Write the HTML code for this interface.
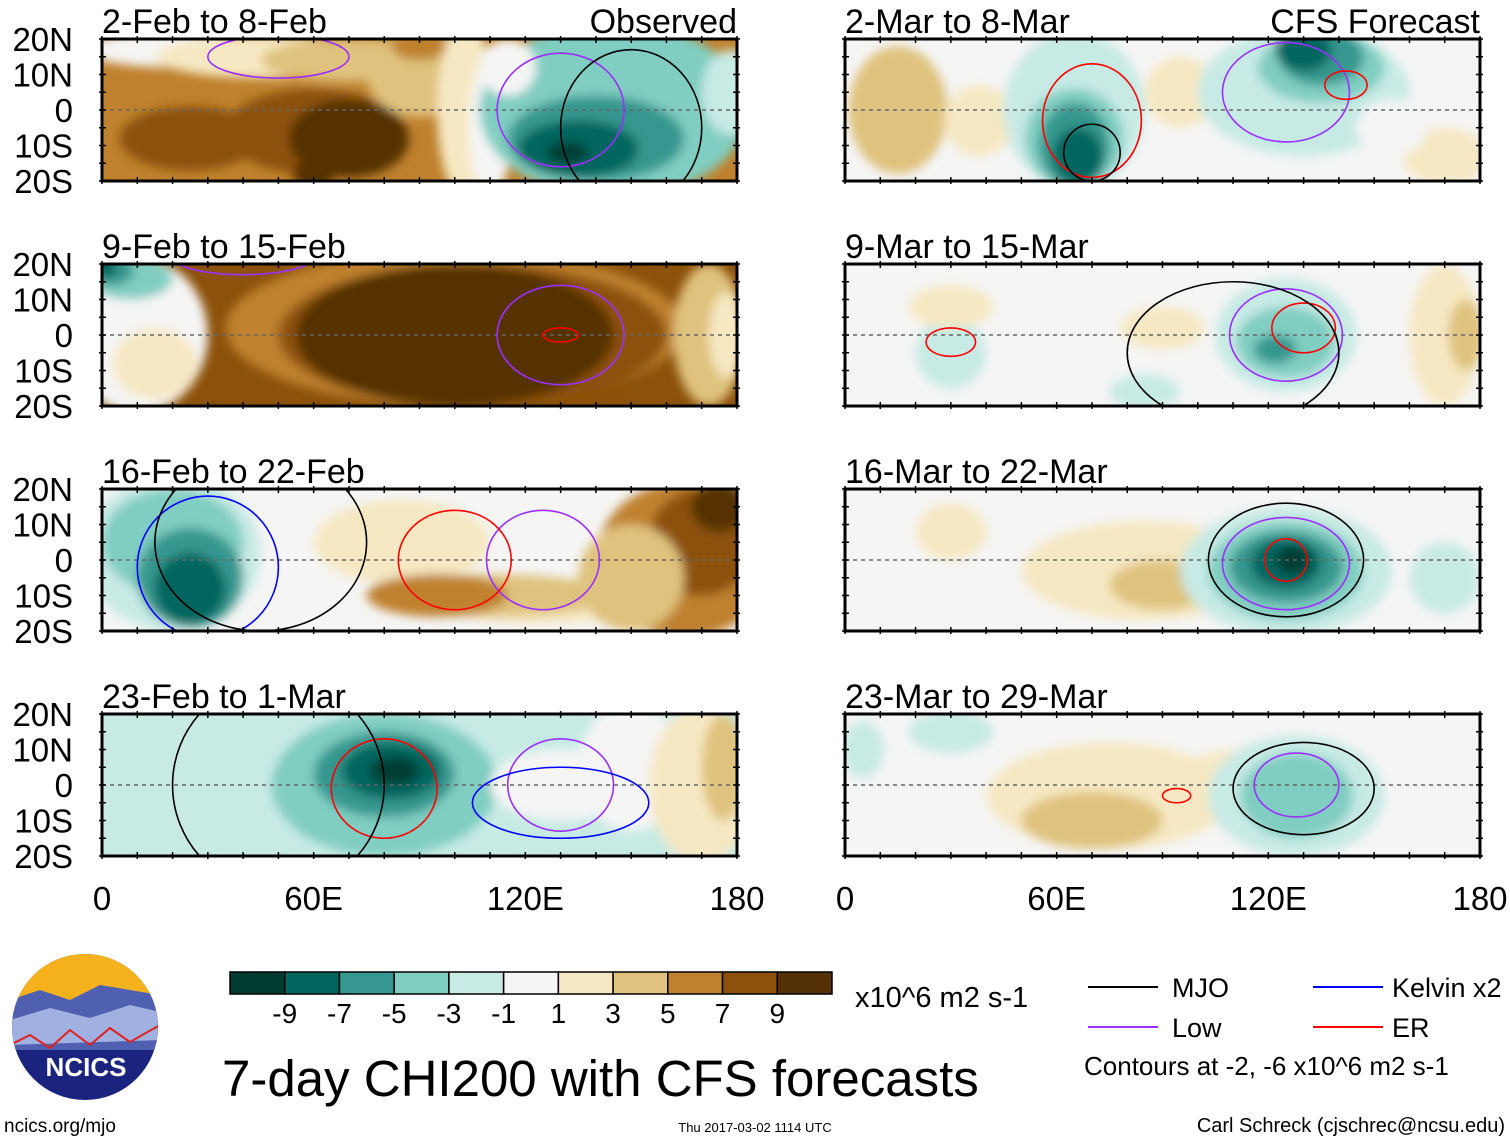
<!DOCTYPE html>
<html><head><meta charset="utf-8"><style>
body{margin:0;background:#fff;width:1510px;height:1142px;overflow:hidden;font-family:"Liberation Sans",sans-serif}
svg text{font-family:"Liberation Sans",sans-serif}
</style></head><body>
<svg id="s" width="1510" height="1142" viewBox="0 0 1510 1142">
<defs>
<filter id="bl" x="-20%" y="-40%" width="140%" height="180%"><feGaussianBlur stdDeviation="5"/></filter>
<clipPath id="logoClip"><circle cx="85" cy="1027" r="73"/></clipPath>
</defs>
</svg>
<script>
const levels=["#003c30","#01665e","#35978f","#80cdc1","#c7eae5","#f5f5f5","#f6e8c3","#dfc27d","#bf812d","#8c510a","#543005"];
const levelLabels=["-9","-7","-5","-3","-1","1","3","5","7","9"];
const panelTitles=["2-Feb to 8-Feb","2-Mar to 8-Mar","9-Feb to 15-Feb","9-Mar to 15-Mar","16-Feb to 22-Feb","16-Mar to 22-Mar","23-Feb to 1-Mar","23-Mar to 29-Mar"];
const latTicks=["20N","10N","0","10S","20S"];
const lonTicks=["0","60E","120E","180"];
const panelBg=[8,5,9,5,5,5,4,5];
// blobs: [lon, lat, rxDeg, ryDeg, level]
const blobs0=[[20,17,25,5,5],[45,15,30,6,6],[70,14,25,6,7],[90,10,15,12,7],[90,18,8,4,8],[25,-8,20,9,9],[60,-6,25,12,9],[70,-8,17,11,10],[60,-18,6,4,10],[103,0,8,25,6],[110,-5,6,20,5],[145,0,38,25,3],[140,-8,25,12,2],[135,-11,17,8,1],[132,-12,6,3,0],[178,5,8,12,4],[115,12,8,8,5]];
const blobs1=[[15,0,14,18,7],[38,-3,10,10,6],[95,5,10,10,6],[65,0,20,22,4],[65,-8,14,14,3],[65,-10,10,12,2],[66,-13,7,8,1],[130,5,30,18,4],[135,12,18,10,3],[135,15,12,8,2],[130,17,8,6,1],[170,-13,12,8,6],[155,-5,10,8,5]];
const blobs2=[[10,0,20,22,5],[8,16,12,6,3],[3,18,6,4,2],[1,19,3,3,1],[15,-8,12,10,6],[100,2,65,22,8],[105,0,55,20,9],[100,0,45,20,10],[172,0,10,20,7],[177,0,5,12,6]];
const blobs3=[[30,-5,10,10,4],[30,8,12,6,6],[90,2,12,6,6],[125,0,20,16,4],[125,-2,14,10,3],[122,-4,6,4,2],[170,0,10,20,6],[176,0,5,10,7],[85,-16,10,5,4]];
const blobs4=[[20,2,25,22,4],[20,5,20,15,3],[25,-5,15,14,2],[25,-8,10,10,1],[85,5,25,12,6],[125,-12,30,6,6],[110,-10,35,6,7],[95,-10,20,6,8],[165,0,25,22,8],[170,5,15,15,9],[175,15,8,7,10],[150,-5,15,15,7]];
const blobs5=[[85,-3,35,14,6],[90,-7,15,7,7],[30,8,10,8,6],[125,-3,30,18,4],[125,-3,22,14,3],[125,-2,16,10,2],[125,-1,10,7,1],[127,0,5,4,0],[170,-5,10,10,4]];
const blobs6=[[20,0,40,25,4],[80,0,32,20,3],[80,3,20,12,2],[82,4,14,8,1],[83,4,7,4,0],[150,5,15,18,5],[170,0,15,22,6],[176,5,6,15,7],[130,0,20,10,5]];
const blobs7=[[75,-3,35,15,6],[70,-10,20,8,7],[110,0,15,10,6],[128,-3,25,17,4],[128,-3,16,12,3],[30,15,12,6,4],[5,10,6,8,4]];
const allBlobs=[blobs0,blobs1,blobs2,blobs3,blobs4,blobs5,blobs6,blobs7];
// contours [lon,lat,rx,ry,color]
const contours=[
[[50,15,20,6,"#9b30ff"],[130,0,18,16,"#9b30ff"],[150,-5,20,22,"#000"]],
[[70,-3,14,16,"#f00"],[70,-12,8,8,"#000"],[125,5,18,14,"#9b30ff"],[142,7,6,4,"#f00"]],
[[130,0,18,14,"#9b30ff"],[130,0,5,2,"#f00"],[40,22,20,5,"#9b30ff"]],
[[125,0,16,13,"#9b30ff"],[130,2,9,7,"#f00"],[30,-2,7,4,"#f00"],[110,-5,30,20,"#000"]],
[[125,0,16,14,"#9b30ff"],[100,0,16,14,"#f00"],[30,-2,20,20,"#00f"],[45,5,30,25,"#000"]],
[[125,-1,18,13,"#9b30ff"],[125,0,22,16,"#000"],[125,0,6,6,"#f00"]],
[[80,-1,15,14,"#f00"],[130,0,15,13,"#9b30ff"],[130,-5,25,10,"#00f"],[50,0,30,30,"#000"]],
[[128,0,12,9,"#9b30ff"],[130,-1,20,13,"#000"],[94,-3,4,2,"#f00"]]
];
const NS="http://www.w3.org/2000/svg";
const svg=document.getElementById('s');
function mk(tag,attrs,parent){const e=document.createElementNS(NS,tag);for(const k in attrs)e.setAttribute(k,attrs[k]);(parent||svg).appendChild(e);return e;}
const colX=[102,845],rowY=[39,264,489,714],PW=635,PH=142;
for(let i=0;i<8;i++){
  const x0=colX[i%2],y0=rowY[Math.floor(i/2)];
  const xs=lon=>x0+lon/180*PW, ys=lat=>y0+(20-lat)/40*PH;
  const g=mk('g',{});
  
  
  const cid='c'+i;
  const cp=mk('clipPath',{id:cid},g);mk('rect',{x:x0,y:y0,width:PW,height:PH},cp);
  const inner=mk('g',{'clip-path':'url(#'+cid+')'},g);
  mk('rect',{x:x0,y:y0,width:PW,height:PH,fill:levels[panelBg[i]]},inner);
  const bg=mk('g',{filter:'url(#bl)'},inner);
  allBlobs[i].forEach(b=>{
    const e=mk('ellipse',{cx:xs(b[0]),cy:ys(b[1]),rx:b[2]/180*PW,ry:b[3]/40*PH,fill:levels[b[4]]},bg);
    
    
  });
  mk('line',{x1:x0,y1:ys(0),x2:x0+PW,y2:ys(0),stroke:'#666','stroke-dasharray':'4,4','stroke-width':1.5},inner);
  contours[i].forEach(c=>{
    const e=mk('ellipse',{cx:xs(c[0]),cy:ys(c[1]),rx:c[2]/180*PW,ry:c[3]/40*PH,fill:'none',stroke:c[4],'stroke-width':1.6},inner);
    
    
  });
  mk('rect',{x:x0,y:y0,width:PW,height:PH,fill:'none',stroke:'#000','stroke-width':3},g);
  for(let k=0;k<=18;k++){const tx=xs(k*10);mk('line',{x1:tx,y1:y0-3,x2:tx,y2:y0+4,stroke:'#000','stroke-width':1.5},g);mk('line',{x1:tx,y1:y0+PH-4,x2:tx,y2:y0+PH+3,stroke:'#000','stroke-width':1.5},g);}
  for(let k=0;k<=8;k++){const ty=ys(20-k*5);mk('line',{x1:x0-3,y1:ty,x2:x0+4,y2:ty,stroke:'#000','stroke-width':1.5},g);mk('line',{x1:x0+PW-4,y1:ty,x2:x0+PW+3,y2:ty,stroke:'#000','stroke-width':1.5},g);}
  const t=mk('text',{x:x0,y:y0-6,'font-size':34},g);t.textContent=panelTitles[i];
  
  if(i%2===0){latTicks.forEach((l,k)=>{const tt=mk('text',{x:73,y:ys(20-k*10)+12,'font-size':33,'text-anchor':'end'},g);tt.textContent=l;
    });}
}
[["Observed",737],["CFS Forecast",1480]].forEach(a=>{const t=mk('text',{x:a[1],y:33,'font-size':34,'text-anchor':'end'});t.textContent=a[0];
  });
colX.forEach(x0=>lonTicks.forEach((l,k)=>{const t=mk('text',{x:x0+k*60/180*PW,y:910,'font-size':33,'text-anchor':'middle'});t.textContent=l;
  }));
const cb=mk('g',{});
const cw=602/11;
levels.forEach((c,k)=>mk('rect',{x:230+k*cw,y:972,width:cw,height:22,fill:c,stroke:'#000','stroke-width':1.5},cb));
levelLabels.forEach((l,k)=>{const t=mk('text',{x:230+(k+1)*cw,y:1023,'font-size':28,'text-anchor':'middle'},cb);t.textContent=l;});
const u=mk('text',{x:855,y:1007,'font-size':29});u.textContent="x10^6 m2 s-1";
const ti=mk('text',{x:222,y:1096,'font-size':51});ti.textContent="7-day CHI200 with CFS forecasts";
const lg=mk('g',{});
[["MJO","#000",1088,1172,987],["Low","#9b30ff",1088,1172,1027],["Kelvin x2","#00f",1313,1392,987],["ER","#f00",1313,1392,1027]].forEach(a=>{
  mk('line',{x1:a[2],y1:a[4],x2:a[2]+70,y2:a[4],stroke:a[1],'stroke-width':2},lg);
  const t=mk('text',{x:a[3],y:a[4]+10,'font-size':27},lg);t.textContent=a[0];});
const ct=mk('text',{x:1084,y:1075,'font-size':26},lg);ct.textContent="Contours at -2, -6 x10^6 m2 s-1";
const lo=mk('g',{'clip-path':'url(#logoClip)'});
mk('rect',{x:10,y:950,width:150,height:160,fill:'#1a237e'},lo);
mk('rect',{x:10,y:950,width:150,height:50,fill:'#f6b21c'},lo);
mk('path',{d:'M10 1000 L40 990 L70 1000 L100 985 L160 995 L160 1050 L10 1050Z',fill:'#5060b0'},lo);
mk('path',{d:'M10 1020 L50 1008 L90 1018 L130 1005 L160 1012 L160 1040 L10 1045Z',fill:'#a0b0e0'},lo);
mk('path',{d:'M10 1045 L30 1035 L50 1048 L70 1030 L90 1045 L110 1028 L130 1042 L160 1025',fill:'none',stroke:'#e02020','stroke-width':2},lo);
const lt=mk('text',{x:86,y:1076,'font-size':26,'font-weight':'bold',fill:'#fff','text-anchor':'middle'},lo);lt.textContent="NCICS";
[["ncics.org/mjo",4,1132,19,"start"],["Thu 2017-03-02 1114 UTC",755,1132,13,"middle"],["Carl Schreck (cjschrec@ncsu.edu)",1505,1132,20,"end"]].forEach(a=>{
  const t=mk('text',{x:a[1],y:a[2],'font-size':a[3],'text-anchor':a[4]});t.textContent=a[0];
  });
</script>
</body></html>
